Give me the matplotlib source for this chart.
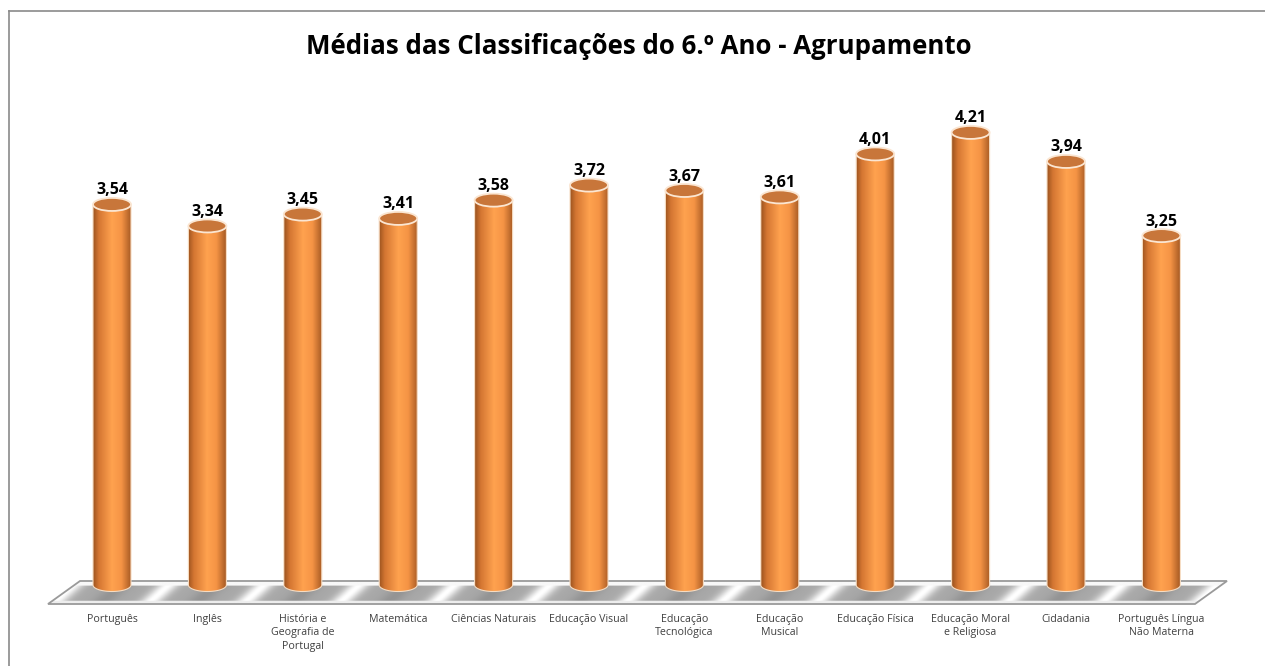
import numpy as np
import matplotlib
matplotlib.use("Agg")
import matplotlib.pyplot as plt
from matplotlib.patches import Ellipse, Polygon, PathPatch
from matplotlib.path import Path
from matplotlib.colors import LinearSegmentedColormap
from matplotlib.lines import Line2D

# dados
disciplinas = ["Português", "Inglês", "História e\nGeografia de\nPortugal", "Matemática",
               "Ciências Naturais", "Educação Visual", "Educação\nTecnológica",
               "Educação\nMusical", "Educação Física", "Educação Moral\ne Religiosa",
               "Cidadania", "Português Língua\nNão Materna"]
medias = [3.54, 3.34, 3.45, 3.41, 3.58, 3.72, 3.67, 3.61, 4.01, 4.21, 3.94, 3.25]
rotulos = ["3,54", "3,34", "3,45", "3,41", "3,58", "3,72", "3,67", "3,61", "4,01", "4,21", "3,94", "3,25"]
titulo = "Médias das Classificações do 6.º Ano - Agrupamento"

W, H = 1265, 666
fig = plt.figure(figsize=(W / 100, H / 100), dpi=100)
ax = fig.add_axes([0, 0, 1, 1])

# escala: pixel -> dados
x0, dx = 112, 95.4
y0, dy = 585, 107.5

def px(x, y):
    return ((x - x0) / dx, (y0 - y) / dy)

# chão 3D com reflexos diagonais
chao = [px(48, 604), px(1195, 604), px(1227, 581), px(80, 581)]
floor = Polygon(chao, closed=True, facecolor="none", edgecolor="#9a9a9a", lw=1.3, zorder=2)
ax.add_patch(floor)
pxs = np.linspace(48, 1227, 1200)
vs = np.linspace(0, 1, 50)
XX, VV = np.meshgrid(pxs, vs)
fase = ((XX - 160 - 25 * (VV - 0.5)) / dx) % 1.0
d = np.minimum(fase, 1 - fase)
pat = 0.66 + 0.34 * np.exp(-(d / 0.11) ** 2) - 0.08 * np.exp(-((d - 0.5) / 0.12) ** 2)
pat = np.where(VV > 0.8, 0.97, pat)
pat = np.where(VV < 0.13, 0.93, pat)
fx0, fy0 = px(48, 604)
fx1, fy1 = px(1227, 581)
cmap_g = LinearSegmentedColormap.from_list("g", ["#000000", "#ffffff"])
im = ax.imshow(pat, extent=[fx0, fx1, fy0, fy1], origin="lower", cmap=cmap_g,
               vmin=0, vmax=1, zorder=1, interpolation="bilinear")
im.set_clip_path(floor)

# cilindros
cmap_o = LinearSegmentedColormap.from_list("o", [
    (0.0, "#9c531f"), (0.15, "#d47632"), (0.5, "#ffa24f"),
    (0.75, "#f59445"), (1.0, "#a95b24")])
w = 38 / dx
eh = 13 / dy
grad = np.linspace(0, 1, 200)[None, :]
t = np.linspace(np.pi, 2 * np.pi, 60)

for i, (v, lab) in enumerate(zip(medias, rotulos)):
    verts = [(i - w / 2, v), (i - w / 2, 0)]
    verts += [(i + w / 2 * np.cos(a), eh / 2 * np.sin(a)) for a in t]
    verts += [(i + w / 2, 0), (i + w / 2, v), (i - w / 2, v)]
    path = Path(verts)
    body = PathPatch(path, facecolor="none", edgecolor="#f6dcc2", lw=0.8, zorder=4)
    ax.add_patch(body)
    img = ax.imshow(grad, extent=[i - w / 2, i + w / 2, -eh / 2, v], cmap=cmap_o,
                    aspect="auto", zorder=3, interpolation="bilinear")
    img.set_clip_path(body)
    ax.add_patch(Ellipse((i, v), w, eh, facecolor="#c8763a", edgecolor="#fbe6d2",
                         lw=1.3, zorder=5))
    ax.text(i, v + eh / 2 - 0.005, lab, ha="center", va="bottom", fontsize=11.5,
            fontweight="bold", family="Open Sans", color="#000000", zorder=6)

# rótulos do eixo
for i, nome in enumerate(disciplinas):
    ax.text(i, px(0, 614)[1], nome, ha="center", va="top", fontsize=7.7,
            family="Open Sans", color="#404040", linespacing=1.3)

ax.set_aspect("auto")
ax.set_xlim((0 - x0) / dx, (W - x0) / dx)
ax.set_ylim((y0 - H) / dy, y0 / dy)
ax.axis("off")

fig.text(639 / W, 1 - 46 / H, titulo, ha="center", va="center", fontsize=18.6,
         fontweight="bold", family="Open Sans", color="#000000")

# moldura (só topo e esquerda visíveis)
fig.add_artist(Line2D([9 / W, 9 / W], [0, 1 - 11 / H], transform=fig.transFigure,
                      color="#8a8a8a", lw=1.2))
fig.add_artist(Line2D([9 / W, 1], [1 - 11 / H, 1 - 11 / H], transform=fig.transFigure,
                      color="#8a8a8a", lw=1.2))

fig.savefig("out.png", dpi=100)
